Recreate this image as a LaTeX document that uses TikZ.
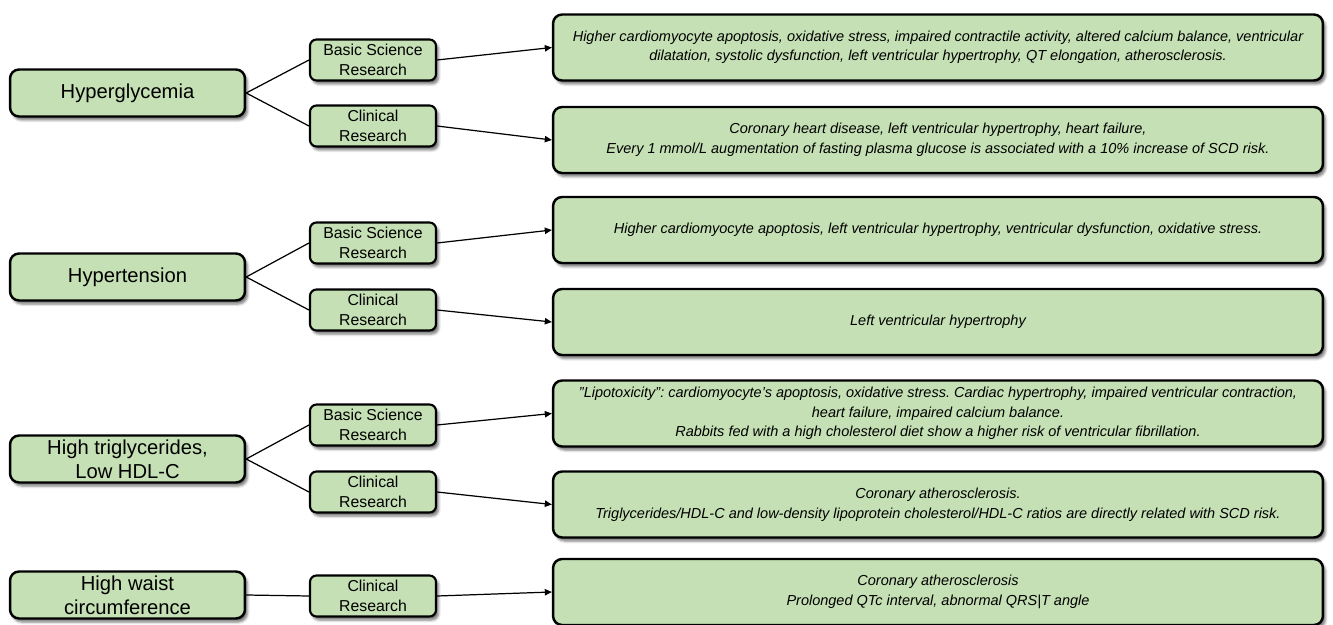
\documentclass[tikz,border=0pt]{standalone}
\usepackage{fontspec}
\setmainfont{Liberation Sans}
\usetikzlibrary{arrows.meta,shadows.blur}
\definecolor{boxgreen}{RGB}{197,224,180}
\frenchspacing
\tikzset{
  box/.style={draw, line width=1.4pt, rounded corners=0.18cm, fill=boxgreen,
    align=center, inner sep=0pt,
    blur shadow={shadow xshift=0.05cm, shadow yshift=-0.07cm,
      shadow blur radius=0.05cm, shadow opacity=55}},
  factor/.style={box, minimum width=4.7cm, minimum height=0.94cm,
    font=\fontsize{11.5}{13.7}\selectfont},
  kind/.style={box, line width=1.2pt, rounded corners=0.13cm,
    minimum width=2.52cm, minimum height=0.82cm,
    font=\fontsize{9}{11.4}\selectfont},
  finding/.style={box, minimum width=15.4cm, minimum height=1.32cm,
    font=\fontsize{8.25}{11.1}\selectfont\itshape},
  link/.style={line width=0.7pt},
  arrow/.style={line width=0.7pt, -{Triangle[length=4pt,width=3.6pt]}}
}
\begin{document}
\begin{tikzpicture}[x=0.02cm, y=-0.02cm]
      \useasboundingbox (0,0) rectangle (1333,625);

      \node[factor] (hyperglycemia) at (127.5,93) {Hyperglycemia};
      \node[kind] (hgbasic) at (373,60) {Basic Science\\Research};
      \node[kind] (hgclinical) at (373,126) {Clinical\\Research};
      \node[finding] (hgbasicfind) at (938,47.5) {Higher cardiomyocyte apoptosis, oxidative stress, impaired contractile activity, altered calcium balance, ventricular\\dilatation, systolic dysfunction, left ventricular hypertrophy, QT elongation, atherosclerosis.};
      \node[finding] (hgclinicalfind) at (938,140) {Coronary heart disease, left ventricular hypertrophy, heart failure,\\Every 1 mmol/L augmentation of fasting plasma glucose is associated with a 10\% increase of SCD risk.};

      \node[factor] (hypertension) at (127.5,277) {Hypertension};
      \node[kind] (htbasic) at (373,243) {Basic Science\\Research};
      \node[kind] (htclinical) at (373,310) {Clinical\\Research};
      \node[finding] (htbasicfind) at (938,230) {Higher cardiomyocyte apoptosis, left ventricular hypertrophy, ventricular dysfunction, oxidative stress.};
      \node[finding] (htclinicalfind) at (938,322) {Left ventricular hypertrophy};

      \node[factor] (lipids) at (127.5,459) {High triglycerides,\\Low HDL-C};
      \node[kind] (lpbasic) at (373,425) {Basic Science\\Research};
      \node[kind] (lpclinical) at (373,492) {Clinical\\Research};
      \node[finding] (lpbasicfind) at (938,413.5) {”Lipotoxicity”: cardiomyocyte’s apoptosis, oxidative stress. Cardiac hypertrophy, impaired ventricular contraction,\\heart failure, impaired calcium balance.\\Rabbits fed with a high cholesterol diet show a higher risk of ventricular fibrillation.};
      \node[finding] (lpclinicalfind) at (938,504.5) {Coronary atherosclerosis.\\Triglycerides/HDL-C and low-density lipoprotein cholesterol/HDL-C ratios are directly related with SCD risk.};

      \node[factor] (waist) at (127.5,595) {High waist\\circumference};
      \node[kind] (wcclinical) at (373,596) {Clinical\\Research};
      \node[finding] (wcclinicalfind) at (938,592) {Coronary atherosclerosis\\Prolonged QTc interval, abnormal QRS|T angle};

      \foreach \src/\basic/\clin in {hyperglycemia/hg, hypertension/ht, lipids/lp} {
        \draw[link] (\src.east) -- (\basic basic.west);
        \draw[link] (\src.east) -- (\clin clinical.west);
        \draw[arrow] (\basic basic.east) -- (\basic basicfind.west);
        \draw[arrow] (\clin clinical.east) -- (\clin clinicalfind.west);
      }
      \draw[link] (waist.east) -- (wcclinical.west);
      \draw[arrow] (wcclinical.east) -- (wcclinicalfind.west);

    \end{tikzpicture}
\end{document}
